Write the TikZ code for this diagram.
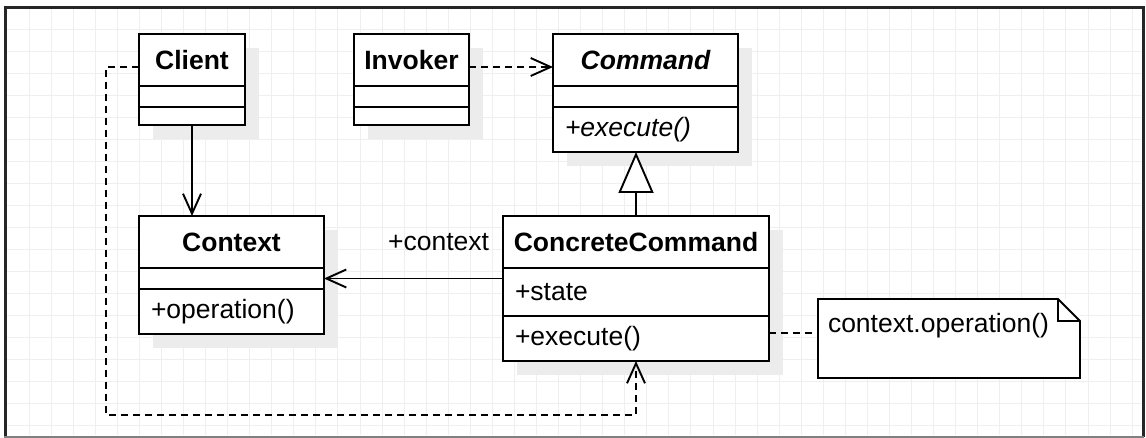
\documentclass[tikz,border=0pt]{standalone}
\usepackage{fontspec}
\setmainfont{Liberation Sans}
\usetikzlibrary{positioning,shadows,arrows.meta}
\definecolor{shadowgray}{RGB}{236,236,236}
\definecolor{gridgray}{RGB}{239,239,239}

\begin{document}
\fontsize{26.5pt}{31pt}\selectfont
\begin{tikzpicture}[
x=1pt,
y=-1pt,
box/.style={
  draw,
  fill=white,
  line width=1.9pt,
  inner sep=0pt,
  outer sep=0pt,
  drop shadow={shadow xshift=14pt, shadow yshift=-14pt, fill=shadowgray, opacity=1}
  },
classname/.style={box, font=\bfseries, minimum height=52pt},
slot/.style={box, minimum height=#1},
member/.style={box, minimum height=#1, inner xsep=12pt, align=left},
notebox/.style={
  fill=white,
  inner xsep=10pt,
  inner ysep=10pt,
  outer sep=0pt,
  text width=242pt,
  align=left,
  text height=24pt,
  text depth=35pt
  },
link/.style={line width=1.9pt},
dep/.style={link, dash pattern=on 7pt off 5pt},
>={Straight Barb[length=20pt, width=18pt]}
]
\useasboundingbox (0,0) rectangle (1146,438);

\foreach \i in {0,...,50}
  \draw[gridgray, line width=0.7pt] ({29+22.06*\i},9) -- ({29+22.06*\i},435);
\foreach \j in {0,...,18}
  \draw[gridgray, line width=0.7pt] (7,{29+22*\j}) -- (1141,{29+22*\j});
\draw[line width=3pt, black!85] (5,437) -- (5,8) -- (1143,8) -- (1143,437);
\draw[line width=2pt, gray] (4,437) -- (1144,437);

\node[classname, minimum width=106pt] (client) at (192,60) {Client};
\node[slot=21pt, minimum width=106pt, below=0pt of client] (client-a) {};
\node[slot=18pt, minimum width=106pt, below=0pt of client-a] (client-o) {};

\node[classname, minimum width=115pt] (invoker) at (411.5,60) {Invoker};
\node[slot=21pt, minimum width=115pt, below=0pt of invoker] (invoker-a) {};
\node[slot=18pt, minimum width=115pt, below=0pt of invoker-a] (invoker-o) {};

\node[classname, minimum width=185pt, font=\bfseries\itshape] (command) at (645.5,60) {Command};
\node[slot=21pt, minimum width=185pt, below=0pt of command] (command-a) {};
\node[member=45pt, text width=161pt, font=\itshape, below=0pt of command-a] (command-o) {+execute()};

\node[classname, minimum width=185pt] (context) at (231.5,242) {Context};
\node[slot=21pt, minimum width=185pt, below=0pt of context] (context-a) {};
\node[member=45pt, text width=161pt, below=0pt of context-a] (context-o) {+operation()};

\node[classname, minimum width=266pt] (cc) at (636,242) {ConcreteCommand};
\node[member=48pt, text width=242pt, below=0pt of cc] (cc-a) {+state};
\node[member=45pt, text width=242pt, below=0pt of cc-a] (cc-o) {+execute()};

\node[notebox, anchor=north west] (note) at (818,299) {context.operation()};
\draw[link] (note.north west) -- ([xshift=-22pt]note.north east) -- ([yshift=-22pt]note.north east) -- (note.south east) -- (note.south west) -- cycle;
\draw[link] ([xshift=-22pt]note.north east) |- ([yshift=-22pt]note.north east);

\draw[link, ->] (client-o.south) -- (client-o.south |- context.north);
\draw[link, ->] (cc-a.west |- context-a.east) -- node[pos=0.36, above=18pt] {+context} (context-a.east);
\draw[dep, ->] ([yshift=-7pt]invoker.east) -- ([yshift=-7pt]command.west);
\coordinate (bend) at (106,415);
\draw[dep, ->] ([yshift=-7pt]client.west) -| (bend) -| (cc-o.south);
\draw[dep] (cc-o.east |- note.base) -- (note.base -| note.west);
\draw[link, -{Triangle[fill=white, length=41pt, width=35pt]}] (cc.north) -- (cc.north |- command-o.south);

\end{tikzpicture}
\end{document}
